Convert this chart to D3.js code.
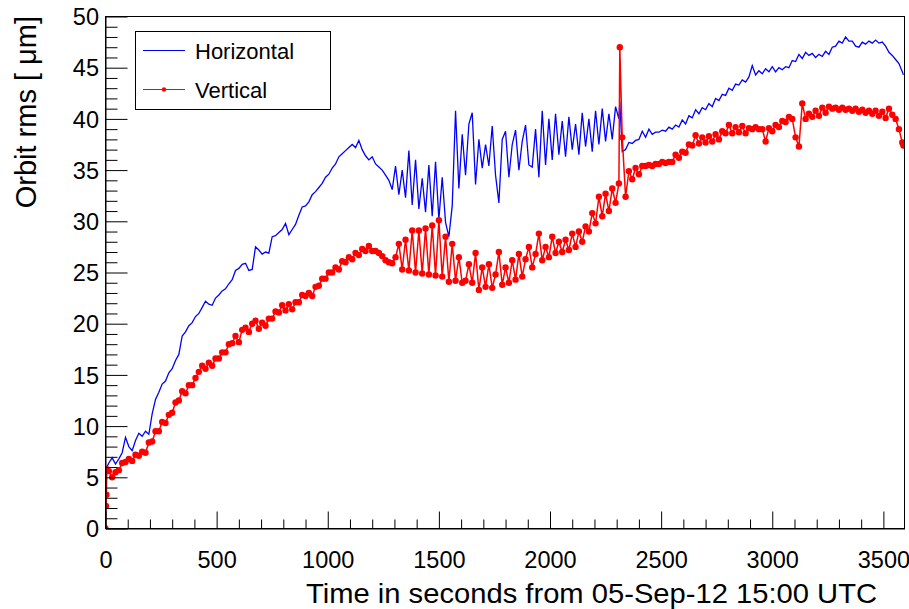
<!DOCTYPE html>
<html><head><meta charset="utf-8">
<script src="https://cdn.jsdelivr.net/npm/d3@7"></script>
<style>html,body{margin:0;padding:0;background:#fff;} svg{display:block;font-family:"Liberation Sans",Arial,Helvetica,sans-serif;}</style>
</head><body><svg id="chart" width="909" height="609"></svg>
<script>
// time in seconds
const time = [0,2,4,6,
15,30,45,60,75,90,105,120,135,150,165,180,195,210,225,240,255,270,285,300,
315,330,345,360,375,390,405,420,435,450,465,480,495,510,525,540,555,570,585,600,
615,630,645,660,675,690,705,720,735,750,765,780,795,810,825,840,855,870,885,900,
915,930,945,960,975,990,1005,1020,1035,1050,1065,1080,1095,1110,1125,1140,1155,1170,1185,1200,
1215,1230,1245,1260,1275,1290,1305,1320,1335,1350,1365,1380,1395,1410,1425,1440,1455,1470,1485,1500,
1515,1530,1545,1560,1575,1590,1605,1620,1635,1650,1665,1680,1695,1710,1725,1740,1755,1770,1785,1800,
1815,1830,1845,1860,1875,1890,1905,1920,1935,1950,1965,1980,1995,2010,2025,2040,2055,2070,2085,2100,
2115,2130,2145,2160,2175,2190,2205,2220,2235,2250,2265,2280,2295,2310,2314,2325,
2340,2355,2370,2385,2400,2415,2430,2445,2460,2475,2490,2505,2520,2535,2550,2565,2580,2595,2610,2625,
2640,2655,2670,2685,2700,2715,2730,2745,2760,2775,2790,2805,2820,2835,2850,2865,2880,2895,2910,2925,
2940,2955,2970,2985,3000,3015,3030,3045,3060,3075,3090,3105,3120,3135,3150,3165,3180,3195,3210,3225,
3240,3255,3270,3285,3300,3315,3330,3345,3360,3375,3390,3405,3420,3435,3450,3465,3480,3495,3510,3525,
3540,3555,3570,3585,3590];

// Horizontal orbit rms [um]
const horizontal = [5.2,5.5,5.8,6.0,
6.4,6.9,6.3,6.8,7.4,8.9,8.0,7.6,8.6,9.3,9.0,9.5,9.2,11.2,12.6,13.3,14.1,14.4,15.2,15.6,
16.4,17.0,18.8,19.2,19.8,20.1,20.7,21.0,21.6,22.2,21.9,21.8,22.5,22.8,23.2,23.4,23.9,24.3,25.2,25.4,
25.8,25.9,25.2,25.3,27.5,27.2,26.8,27.0,26.9,28.5,28.6,28.9,29.2,29.8,28.7,29.2,29.7,30.6,31.4,31.5,
31.9,32.6,32.9,33.3,33.7,34.3,34.6,35.2,35.6,36.3,36.6,36.9,37.2,37.5,37.2,37.9,37.0,36.4,36.0,36.3,
35.6,35.3,35.0,34.5,34.0,33.1,35.4,32.6,35.0,32.3,36.9,31.6,36.0,31.2,34.2,30.9,35.5,30.5,35.8,30.2,
34.3,29.9,28.5,31.5,40.8,33.2,38.5,34.5,39.5,40.6,33.6,38.0,35.2,37.5,35.4,39.3,34.5,31.8,38.0,38.8,
34.3,37.5,38.9,35.0,37.8,39.4,35.5,35.3,39.0,34.3,40.8,35.5,40.0,36.0,40.5,36.5,39.8,36.3,40.2,37.0,
39.5,36.5,40.6,37.3,40.0,36.8,40.8,37.5,41.0,37.8,40.5,38.0,41.2,40.0,41.7,36.8,
37.0,37.7,37.6,37.9,38.0,38.8,38.2,39.0,38.5,38.7,38.7,38.9,38.8,39.2,39.0,39.4,39.2,39.9,39.5,40.3,
40.1,40.9,40.5,41.1,40.9,41.5,41.2,42.0,41.8,42.4,42.3,43.0,42.8,43.4,43.3,43.8,43.6,44.1,45.2,44.3,
44.7,44.4,44.9,44.6,45.1,44.6,45.0,44.8,45.1,45.0,45.7,45.6,46.3,45.9,46.5,46.2,46.4,46.0,46.3,46.1,
46.6,46.3,47.0,47.1,47.6,47.4,48.0,47.6,47.6,47.1,47.0,47.5,47.3,47.6,47.4,47.7,47.4,47.5,47.1,46.5,
46.2,45.8,45.4,44.6,44.3];

// Vertical orbit rms [um]
const vertical = [0,2.2,3.3,5.8,
5.6,5.0,5.5,5.7,6.4,6.5,6.8,6.6,7.2,7.1,7.5,7.4,8.4,8.5,9.5,9.5,10.4,10.3,11.1,11.3,
12.3,12.5,13.4,13.2,14.0,14.0,14.7,15.3,15.9,15.6,16.2,15.9,16.6,16.6,17.2,17.2,18.0,18.1,18.8,18.2,
19.4,19.6,19.2,20.0,20.3,19.5,20.1,19.8,20.5,20.5,21.2,21.1,21.8,21.3,21.9,21.4,22.1,22.1,22.8,22.7,
23.0,22.7,23.6,23.7,24.4,24.4,25.0,25.0,25.5,25.3,26.1,26.0,26.5,26.3,26.9,26.7,27.3,27.1,27.6,27.1,
27.1,26.9,26.6,26.2,26.0,25.9,26.5,27.8,25.3,28.2,25.2,29.1,25.0,29.1,24.9,29.3,24.8,29.6,24.7,30.1,
24.6,28.5,24.1,27.8,24.2,26.5,24.0,24.2,25.8,24.0,26.9,23.3,25.5,23.6,25.8,23.5,24.8,27.0,23.8,25.5,
24.0,26.2,24.3,26.8,24.6,26.3,27.5,25.5,26.8,28.8,26.2,27.5,26.5,28.5,26.9,28.0,27.0,28.2,27.2,28.8,
27.5,29.0,28.0,29.5,29.0,30.8,29.8,32.4,30.5,32.7,31.0,33.2,31.8,33.7,47.0,38.2,
32.4,34.9,34.1,35.2,34.6,35.4,35.4,35.5,35.4,35.6,35.6,35.8,35.7,35.8,35.8,36.5,36.2,36.8,36.7,37.5,
37.4,38.4,37.6,38.2,37.7,38.3,37.8,38.5,38.0,38.8,38.6,39.4,38.6,39.2,38.7,39.3,38.6,39.1,39.0,39.2,
39.0,39.0,37.8,39.1,38.8,39.4,39.2,39.8,39.7,40.2,40.0,38.2,37.3,41.5,40.0,40.5,40.2,40.8,40.3,41.1,
40.6,41.2,41.0,41.1,40.9,41.1,40.9,41.0,40.8,41.0,40.7,40.9,40.6,40.8,40.5,40.8,40.3,40.7,40.1,41.0,
40.4,40.0,39.0,37.7,37.4];

const xTickLabels = [0,500,1000,1500,2000,2500,3000,3500];
const yTickLabels = [0,5,10,15,20,25,30,35,40,45,50];
const seriesNames = ["Horizontal","Vertical"];
const seriesColors = ["#0000ff","#ff0000"];
const xTitle = "Time in seconds from 05-Sep-12 15:00 UTC";
const yTitle = "Orbit rms [ \u03bcm]";

const svg = d3.select("#chart");
svg.append("rect").attr("width",909).attr("height",609).attr("fill","#fff");

const L = 105.5, R = 904.5, T = 16.5, B = 528.5;
const x = d3.scaleLinear().domain([0,3595]).range([L,R]);
const y = d3.scaleLinear().domain([0,50]).range([B,T]);

const n = Math.min(time.length, horizontal.length, vertical.length);
const hData = d3.range(n).map(i => ({t:time[i], v:horizontal[i]}));
const vData = d3.range(n).map(i => ({t:time[i], v:vertical[i]}));

svg.append("clipPath").attr("id","clip").append("rect")
  .attr("x",L).attr("y",T).attr("width",R-L).attr("height",B-T);

const line = d3.line().x(d=>x(d.t)).y(d=>y(d.v));
const plot = svg.append("g").attr("clip-path","url(#clip)");
plot.append("path").datum(hData).attr("d",line)
  .attr("fill","none").attr("stroke",seriesColors[0]).attr("stroke-width",1.3);
plot.append("path").datum(vData).attr("d",line)
  .attr("fill","none").attr("stroke",seriesColors[1]).attr("stroke-width",1.5);
plot.append("g").selectAll("circle").data(vData).join("circle")
  .attr("cx",d=>x(d.t)).attr("cy",d=>y(d.v)).attr("r",3.2).attr("fill",seriesColors[1]);

// frame
svg.append("rect").attr("x",L).attr("y",T).attr("width",R-L).attr("height",B-T)
  .attr("fill","none").attr("stroke","#000").attr("stroke-width",1);

// x axis
const xMinor = d3.range(0,3596,100).filter(v => v % 500 !== 0);
svg.append("g").attr("transform",`translate(0,${B})`)
  .call(d3.axisBottom(x).tickValues(xMinor).tickSize(-9).tickSizeOuter(0).tickFormat(""))
  .call(g=>g.select(".domain").remove());
const gx = svg.append("g").attr("transform",`translate(0,${B})`)
  .call(d3.axisBottom(x).tickValues(xTickLabels).tickSize(-17).tickSizeOuter(0).tickPadding(23).tickFormat(d3.format("d")));
gx.select(".domain").attr("stroke","#000");
gx.selectAll("text").attr("font-size",23.5).attr("font-family","'Liberation Sans', Arial, sans-serif").attr("fill","#000");

// y axis
const yMinor = d3.range(0,51,1).filter(v => v % 5 !== 0);
svg.append("g").attr("transform",`translate(${L},0)`)
  .call(d3.axisLeft(y).tickValues(yMinor).tickSize(-12).tickSizeOuter(0).tickFormat(""))
  .call(g=>g.select(".domain").remove());
const gy = svg.append("g").attr("transform",`translate(${L},0)`)
  .call(d3.axisLeft(y).tickValues(yTickLabels).tickSize(-22).tickSizeOuter(0).tickPadding(6.5).tickFormat(d3.format("d")));
gy.selectAll("text").attr("font-size",23.5).attr("font-family","'Liberation Sans', Arial, sans-serif").attr("fill","#000").attr("dy","0.35em");
svg.selectAll(".tick line").attr("stroke","#000");

// titles
svg.append("text").attr("x",877).attr("y",603).attr("text-anchor","end")
  .attr("font-size",28).attr("textLength",571).attr("lengthAdjust","spacingAndGlyphs")
  .attr("fill","#000").text(xTitle);
svg.append("text").attr("transform","translate(36,16) rotate(-90)").attr("text-anchor","end")
  .attr("font-size",29).attr("fill","#000").text(yTitle);

// legend
const lg = svg.append("g");
lg.append("rect").attr("x",135.5).attr("y",31.5).attr("width",195).attr("height",78)
  .attr("fill","#fff").attr("stroke","#000").attr("stroke-width",1);
const rows = [50.5, 89.5];
seriesNames.forEach((name,i) => {
  lg.append("line").attr("x1",143).attr("x2",185).attr("y1",rows[i]).attr("y2",rows[i])
    .attr("stroke",seriesColors[i]).attr("stroke-width",1.2);
  if (i === 1) lg.append("circle").attr("cx",164).attr("cy",rows[i]).attr("r",2.2).attr("fill",seriesColors[i]);
  lg.append("text").attr("x",195).attr("y",rows[i]+8).attr("font-size",22).attr("fill","#000").text(name);
});
</script></body></html>
